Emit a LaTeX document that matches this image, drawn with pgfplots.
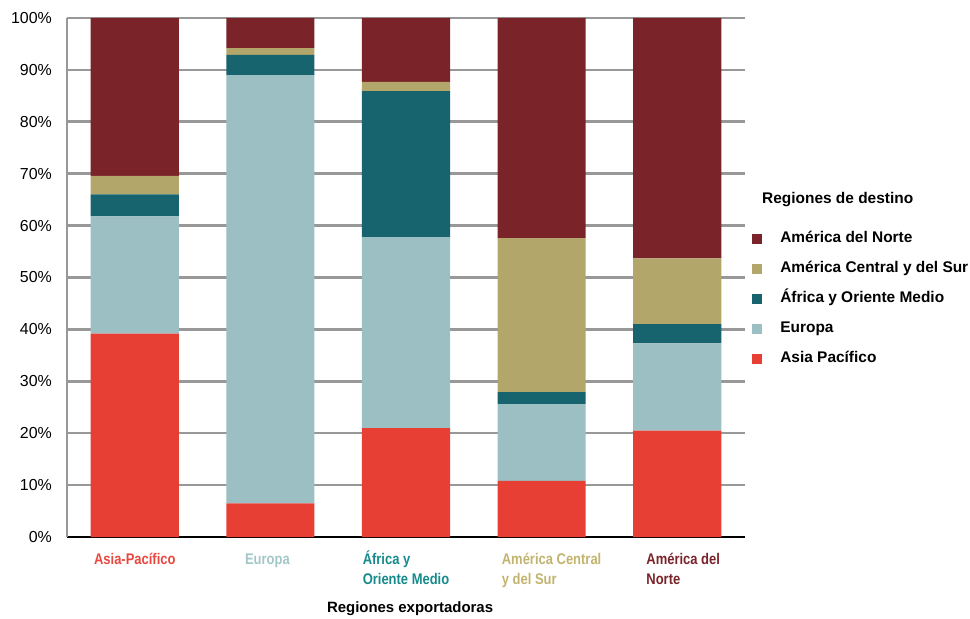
\documentclass[border=0pt]{standalone}
\usepackage{pgfplots}
\pgfplotsset{compat=1.18}
\usepackage{fontspec}
\setmainfont{Liberation Sans}
\newfontfamily\narrowfont[FakeStretch=0.84]{Liberation Sans}
\definecolor{cNA}{HTML}{7A2329}
\definecolor{cAC}{HTML}{B2A66B}
\definecolor{cAF}{HTML}{17636E}
\definecolor{cEU}{HTML}{9BBFC2}
\definecolor{cAP}{HTML}{E83F35}
\definecolor{lAP}{HTML}{E8483F}
\definecolor{lEU}{HTML}{A3C6C9}
\definecolor{lAF}{HTML}{168A8C}
\definecolor{lAC}{HTML}{C2B46E}
\definecolor{lNA}{HTML}{7A2329}
\definecolor{gridg}{HTML}{989898}
\newcommand{\xl}[3][0bp]{\hspace*{#1}\textcolor{#2}{\begin{tabular}{@{}l@{}}#3\end{tabular}}}
\pgfplotstableread{
x AP EU AF AC NA
0 39.2 22.6 4.2 3.6 30.4
1 6.5 82.5 3.9 1.3 5.8
2 21.0 36.8 28.1 1.8 12.3
3 10.8 14.8 2.3 29.7 42.4
4 20.5 16.8 3.7 12.7 46.3
}\datatab
\begin{document}
\begin{tikzpicture}
\path[use as bounding box] (-67bp,-82bp) rectangle (903bp,537bp);
\begin{axis}[
  at={(0,0)}, anchor=south west,
  scale only axis, width=678bp, height=519bp,
  ybar stacked, bar width=0.65,
  xmin=-0.5, xmax=4.5, ymin=0, ymax=100,
  axis lines*=left,
  x axis line style={black, line width=2.8bp},
  y axis line style={gridg, line width=1.5bp},
  ymajorgrids, grid style={gridg, line width=2.6bp},
  major tick length=0pt,
  ytick={0,10,...,100},
  /pgf/number format/assume math mode=true,
  yticklabel={\pgfmathprintnumber{\tick}\%},
  yticklabel style={font=\fontsize{16}{18}\selectfont, inner sep=0pt, xshift=-15bp},
  xtick={0,1,2,3,4},
  xticklabels={
    {\xl{lAP}{Asia-Pacífico}},
    {\xl[-6bp]{lEU}{Europa}},
    {\xl{lAF}{África y\\Oriente Medio}},
    {\xl[20bp]{lAC}{América Central\\y del Sur}},
    {\xl[12bp]{lNA}{América del\\Norte}}},
  xticklabel style={font=\narrowfont\bfseries\fontsize{15.5}{20}\selectfont, inner sep=0pt, anchor=north, yshift=-13bp},
  xlabel={Regiones exportadoras},
  xlabel style={font=\bfseries\fontsize{15}{18}\selectfont, at={(axis description cs:0.506,0)}, anchor=base, yshift=-75bp},
  reverse legend,
  legend cell align=left,
  legend style={draw=none, fill=none, inner sep=0pt,
    at={(rel axis cs:1.0105,0.595)}, anchor=north west,
    font=\bfseries\fontsize{15.5}{18}\selectfont,
    row sep=9bp,
    nodes={text height=11bp, text depth=4bp, inner ysep=3bp, inner xsep=0pt}},
  legend image code/.code={\fill[#1] (0bp,-5bp) rectangle (10bp,5bp); \path (28bp,0bp);},
]
\addplot[fill=cAP, draw=none] table[x=x, y=AP] {\datatab};
\addlegendentry{Asia Pacífico}
\addplot[fill=cEU, draw=none] table[x=x, y=EU] {\datatab};
\addlegendentry{Europa}
\addplot[fill=cAF, draw=none] table[x=x, y=AF] {\datatab};
\addlegendentry{África y Oriente Medio}
\addplot[fill=cAC, draw=none] table[x=x, y=AC] {\datatab};
\addlegendentry{América Central y del Sur}
\addplot[fill=cNA, draw=none] table[x=x, y=NA] {\datatab};
\addlegendentry{América del Norte}
\end{axis}
\node[anchor=west, font=\bfseries\fontsize{15.5}{18}\selectfont, inner sep=0pt] at (695bp,337bp) {Regiones de destino};
\end{tikzpicture}
\end{document}
